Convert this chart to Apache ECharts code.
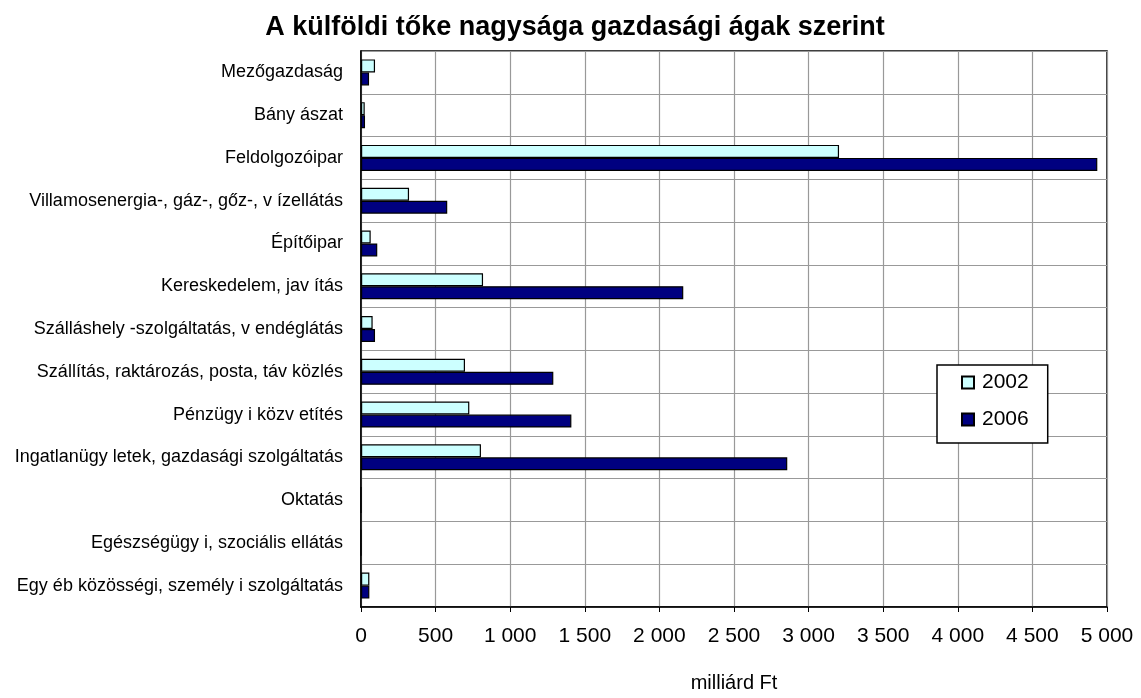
<!DOCTYPE html>
<html>
<head>
<meta charset="utf-8">
<script src="https://cdn.jsdelivr.net/npm/echarts@6/dist/echarts.min.js"></script>
<style>
  html, body { margin: 0; padding: 0; background: #fff; }
  #chart { width: 1141px; height: 698px; }
</style>
</head>
<body>
<div id="chart"></div>
<script>
// ágazatok (felülről lefelé)
var categories = [
  "Mezőgazdaság",
  "Bány ászat",
  "Feldolgozóipar",
  "Villamosenergia-, gáz-, gőz-, v ízellátás",
  "Építőipar",
  "Kereskedelem, jav ítás",
  "Szálláshely -szolgáltatás, v endéglátás",
  "Szállítás, raktározás, posta, táv közlés",
  "Pénzügy i közv etítés",
  "Ingatlanügy letek, gazdasági szolgáltatás",
  "Oktatás",
  "Egészségügy i, szociális ellátás",
  "Egy éb közösségi, személy i szolgáltatás"
];
var values2002 = [94, 25, 3204, 322, 65, 818, 78, 697, 726, 804, 0, 0, 56];
var values2006 = [54, 27, 4935, 578, 109, 2160, 94, 1289, 1410, 2857, 0, 0, 56];
var seriesNames = ["2002", "2006"];
var xTicks = { min: 0, max: 5000, interval: 500 };

var font = "'Liberation Sans', Arial, sans-serif";

function fmt(v) {
  // szóköz az ezres elválasztó
  return String(v).replace(/\B(?=(\d{3})+(?!\d))/g, " ");
}

var chart = echarts.init(document.getElementById("chart"));
chart.setOption({
  backgroundColor: "#fff",
  animation: false,
  title: {
    text: "A külföldi tőke nagysága gazdasági ágak szerint",
    left: 570,
    textAlign: "center",
    top: 9,
    textStyle: { fontFamily: font, fontSize: 27, fontWeight: "bold", color: "#000" }
  },
  legend: {
    orient: "vertical",
    left: 937,
    top: 365,
    padding: [7, 19, 13, 24],
    itemGap: 16,
    itemWidth: 12,
    itemHeight: 12,
    icon: "rect",
    borderColor: "#000",
    borderWidth: 1.5,
    backgroundColor: "#fff",
    data: seriesNames,
    textStyle: { fontFamily: font, fontSize: 21, color: "#000", padding: [0, 0, 0, 3] }
  },
  grid: {
    left: 361,
    right: 34,
    top: 51,
    bottom: 77,
    show: true,
    borderColor: "#000",
    borderWidth: 1.5,
    containLabel: false
  },
  xAxis: {
    type: "value",
    min: xTicks.min,
    max: xTicks.max,
    interval: xTicks.interval,
    name: "milliárd Ft",
    nameLocation: "middle",
    nameGap: 66,
    nameTextStyle: { fontFamily: font, fontSize: 20, color: "#000" },
    axisLine: { show: true, lineStyle: { color: "#000", width: 1.5 } },
    axisTick: { show: true, length: 5, lineStyle: { color: "#000" } },
    axisLabel: {
      fontFamily: font, fontSize: 21, color: "#000", margin: 19,
      formatter: fmt
    },
    splitLine: { show: true, lineStyle: { color: "#999", width: 1.2 } }
  },
  yAxis: {
    type: "category",
    inverse: true,
    data: categories,
    axisLine: { show: true, lineStyle: { color: "#000", width: 1.5 } },
    axisTick: { show: false },
    axisLabel: { fontFamily: font, fontSize: 18, color: "#000", margin: 18 },
    splitLine: { show: true, lineStyle: { color: "#999", width: 1.2 } }
  },
  series: [
    {
      name: seriesNames[0],
      type: "bar",
      data: values2002,
      barWidth: 13,
      barGap: "0%",
      itemStyle: { color: "#CCFFFF", borderColor: "#000", borderWidth: 1.2 }
    },
    {
      name: seriesNames[1],
      type: "bar",
      data: values2006,
      barWidth: 13,
      barGap: "0%",
      itemStyle: { color: "#000080", borderColor: "#000", borderWidth: 1.2 }
    }
  ]
});
</script>
</body>
</html>
